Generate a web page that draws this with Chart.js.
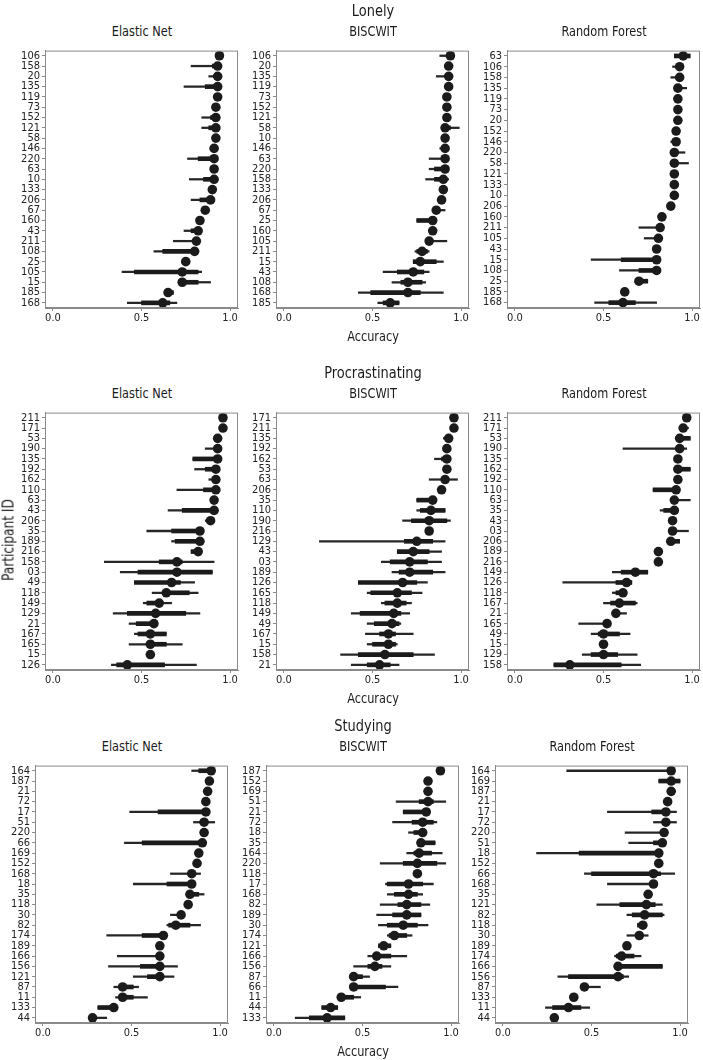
<!DOCTYPE html>
<html>
<head>
<meta charset="utf-8">
<script src="https://cdn.jsdelivr.net/npm/chart.js@4.4.0/dist/chart.umd.min.js"></script>
<style>
  body { margin: 0; background: #fff; width: 703px; height: 1060px; position: relative; overflow: hidden;
         font-family: "Liberation Sans Narrow", "Arial Narrow", "DejaVu Sans Condensed", sans-serif; color: #1a1a1a; }
  .t { position: absolute; white-space: nowrap; transform: translate(-50%, -50%) scaleX(0.9); line-height: 1; }
  canvas { position: absolute; }
</style>
</head>
<body>
<script>
// ---- data: participant ids, point estimates, wide (thin) and narrow (thick) intervals ----
const xTicks = [0, 0.5, 1.0];
const rowTitles = ["Lonely", "Procrastinating", "Studying"];
const modelNames = ["Elastic Net", "BISCWIT", "Random Forest"];

// Lonely
const lonEnIds = ["106","158","20","135","119","73","152","121","58","146","220","63","10","133","206","67","160","43","211","108","25","105","15","185","168"];
const lonEnEst = [0.94,0.93,0.93,0.93,0.93,0.92,0.92,0.92,0.92,0.91,0.91,0.91,0.91,0.90,0.89,0.86,0.83,0.82,0.81,0.80,0.75,0.73,0.73,0.65,0.62];
const lonEnThin = [null,[0.78,0.94],[0.88,0.94],[0.74,0.93],null,null,[0.84,0.92],[0.84,0.92],null,null,[0.76,0.91],null,[0.77,0.91],null,[0.78,0.89],null,null,[0.74,0.82],[0.68,0.81],[0.57,0.80],null,[0.39,0.84],[0.73,0.89],[0.65,0.68],[0.42,0.70]];
const lonEnThick = [null,[0.90,0.94],null,[0.86,0.93],null,null,[0.89,0.92],[0.88,0.92],null,null,[0.82,0.91],null,[0.85,0.91],null,[0.83,0.89],null,null,[0.78,0.82],null,[0.62,0.80],null,[0.46,0.82],[0.73,0.82],[0.65,0.68],[0.50,0.66]];

const lonBwIds = ["106","20","135","119","73","152","121","58","10","146","63","220","158","133","206","67","25","160","105","211","15","43","108","168","185"];
const lonBwEst = [0.94,0.93,0.93,0.93,0.92,0.92,0.92,0.91,0.91,0.91,0.91,0.91,0.90,0.90,0.89,0.86,0.84,0.84,0.82,0.78,0.77,0.73,0.70,0.70,0.60];
const lonBwThin = [[0.88,0.94],null,[0.86,0.93],null,null,null,null,[0.91,0.99],null,[0.88,0.93],[0.82,0.91],[0.82,0.91],[0.80,0.93],null,null,[0.86,0.91],[0.75,0.84],null,[0.82,0.92],[0.74,0.82],[0.73,0.90],[0.56,0.82],[0.61,0.80],[0.42,0.90],[0.53,0.65]];
const lonBwThick = [null,null,null,null,null,null,null,[0.91,0.94],null,null,null,[0.85,0.91],[0.85,0.92],null,null,null,[0.75,0.84],null,null,[0.75,0.81],[0.73,0.86],[0.64,0.79],[0.66,0.78],[0.49,0.77],[0.56,0.65]];

const lonRfIds = ["63","106","158","135","119","73","20","152","146","220","58","121","133","10","206","160","211","105","43","15","108","25","185","168"];
const lonRfEst = [0.95,0.93,0.93,0.92,0.92,0.92,0.92,0.91,0.91,0.90,0.90,0.90,0.90,0.90,0.88,0.83,0.82,0.81,0.80,0.80,0.80,0.70,0.62,0.61];
const lonRfThin = [null,[0.89,0.93],[0.88,0.93],[0.92,0.97],null,null,null,null,[0.88,0.91],[0.90,0.96],[0.90,0.98],null,null,null,null,null,[0.70,0.82],[0.73,0.81],null,[0.43,0.80],[0.59,0.80],[0.69,0.75],null,[0.45,0.80]];
const lonRfThick = [[0.90,0.99],null,null,null,null,null,null,null,null,null,null,null,null,null,null,null,null,null,null,[0.60,0.80],[0.70,0.80],[0.69,0.75],null,[0.53,0.68]];

// Procrastinating
const proEnIds = ["211","171","53","190","135","192","162","110","63","43","206","35","189","216","158","03","49","118","149","129","21","167","165","15","126"];
const proEnEst = [0.96,0.96,0.93,0.93,0.93,0.92,0.92,0.92,0.91,0.91,0.89,0.83,0.83,0.82,0.70,0.70,0.67,0.64,0.60,0.58,0.57,0.55,0.55,0.55,0.42];
const proEnThin = [null,null,null,[0.86,0.93],[0.79,0.93],[0.80,0.92],[0.88,0.92],[0.70,0.92],null,[0.65,0.91],[0.86,0.89],[0.53,0.83],[0.67,0.83],[0.78,0.82],[0.29,0.91],[0.38,0.90],[0.46,0.80],[0.56,0.82],[0.51,0.67],[0.34,0.83],[0.43,0.57],[0.46,0.64],[0.43,0.73],null,[0.33,0.81]];
const proEnThick = [null,null,null,null,[0.79,0.93],[0.86,0.92],null,[0.85,0.92],null,[0.73,0.91],null,[0.67,0.83],[0.69,0.83],[0.78,0.82],[0.60,0.73],[0.48,0.90],[0.46,0.72],[0.62,0.77],[0.53,0.62],[0.42,0.75],[0.47,0.57],[0.48,0.64],[0.55,0.64],null,[0.36,0.63]];

const proBwIds = ["171","211","135","192","162","53","63","206","35","110","190","216","129","43","03","189","126","165","118","149","49","167","15","158","21"];
const proBwEst = [0.96,0.96,0.93,0.92,0.92,0.92,0.91,0.89,0.84,0.83,0.82,0.82,0.75,0.73,0.71,0.71,0.67,0.64,0.64,0.62,0.61,0.59,0.59,0.57,0.54];
const proBwThin = [null,null,[0.90,0.95],null,[0.85,0.93],[0.90,0.92],[0.82,0.98],null,[0.75,0.84],[0.75,0.91],[0.67,0.94],null,[0.20,0.91],[0.64,0.89],[0.55,0.89],[0.61,0.91],[0.42,0.81],[0.47,0.78],[0.55,0.72],[0.38,0.71],[0.47,0.66],[0.46,0.73],[0.47,0.64],[0.32,0.85],[0.38,0.65]];
const proBwThick = [null,null,null,null,[0.89,0.93],null,null,null,[0.75,0.84],[0.77,0.91],[0.72,0.92],null,[0.68,0.84],[0.64,0.82],[0.60,0.81],[0.65,0.84],[0.42,0.75],[0.49,0.72],[0.57,0.69],[0.43,0.66],[0.51,0.65],[0.54,0.63],[0.50,0.63],[0.42,0.73],[0.47,0.60]];

const proRfIds = ["211","171","53","190","135","162","192","110","63","35","43","03","206","189","216","149","126","118","167","21","165","49","15","129","158"];
const proRfEst = [0.97,0.95,0.93,0.93,0.92,0.92,0.92,0.91,0.90,0.90,0.89,0.89,0.88,0.81,0.81,0.68,0.63,0.61,0.59,0.57,0.52,0.50,0.50,0.50,0.31];
const proRfThin = [null,[0.95,0.98],[0.93,0.99],[0.61,0.97],null,[0.92,0.99],null,[0.78,0.91],[0.90,0.99],[0.82,0.90],null,[0.89,0.98],[0.88,0.93],null,null,[0.55,0.75],[0.27,0.66],[0.55,0.61],[0.50,0.69],[0.57,0.63],[0.36,0.52],[0.43,0.65],null,[0.38,0.69],[0.22,0.71]];
const proRfThick = [null,null,[0.93,0.99],null,null,[0.92,0.99],null,[0.78,0.91],null,[0.84,0.90],null,null,[0.88,0.93],null,null,[0.60,0.75],[0.57,0.66],[0.57,0.61],[0.54,0.68],null,null,[0.47,0.59],null,[0.43,0.58],[0.22,0.60]];

// Studying
const stuEnIds = ["164","187","21","72","17","51","220","66","169","152","168","18","35","118","30","82","174","189","166","156","121","87","11","133","44"];
const stuEnEst = [0.95,0.94,0.93,0.92,0.92,0.91,0.91,0.90,0.88,0.87,0.84,0.84,0.83,0.82,0.78,0.75,0.68,0.66,0.66,0.66,0.66,0.45,0.45,0.40,0.28];
const stuEnThin = [[0.84,0.95],null,null,null,[0.49,0.92],[0.85,0.97],null,[0.46,0.90],null,null,[0.72,0.89],[0.51,0.84],[0.83,0.91],null,[0.72,0.78],[0.70,0.89],[0.36,0.68],null,[0.42,0.66],[0.37,0.76],[0.51,0.74],[0.40,0.54],[0.41,0.59],[0.31,0.40],[0.28,0.36]];
const stuEnThick = [[0.88,0.95],null,null,null,[0.65,0.92],null,null,[0.56,0.90],null,null,null,[0.70,0.84],[0.83,0.88],null,null,[0.71,0.83],[0.56,0.68],null,null,[0.55,0.68],[0.59,0.68],[0.43,0.51],[0.43,0.51],[0.31,0.40],null];

const stuBwIds = ["187","152","169","51","21","72","18","35","164","220","118","17","168","82","189","30","174","121","166","156","87","66","11","44","133"];
const stuBwEst = [0.94,0.87,0.87,0.87,0.86,0.84,0.84,0.83,0.82,0.81,0.81,0.76,0.76,0.75,0.75,0.73,0.68,0.62,0.58,0.57,0.45,0.45,0.38,0.32,0.30];
const stuBwThin = [null,[0.85,0.89],[0.85,0.89],[0.69,0.97],[0.73,0.86],[0.67,0.92],[0.76,0.84],[0.83,0.91],[0.75,0.95],[0.60,0.97],null,[0.63,0.90],[0.64,0.84],[0.60,0.88],[0.58,0.83],[0.59,0.87],[0.64,0.78],[0.59,0.66],[0.53,0.75],[0.45,0.66],[0.45,0.54],[0.45,0.70],[0.38,0.49],[0.27,0.36],[0.12,0.40]];
const stuBwThick = [null,[0.85,0.89],[0.85,0.89],[0.82,0.90],[0.73,0.86],[0.78,0.90],[0.79,0.84],[0.83,0.91],[0.79,0.89],[0.73,0.92],null,[0.64,0.84],[0.68,0.81],[0.70,0.83],[0.67,0.83],[0.64,0.81],[0.65,0.75],[0.59,0.66],[0.57,0.66],[0.53,0.61],[0.45,0.50],[0.45,0.63],[0.38,0.45],[0.27,0.36],[0.20,0.40]];

const stuRfIds = ["164","169","187","21","17","72","220","51","18","152","66","168","35","121","82","118","30","189","174","166","156","87","133","11","44"];
const stuRfEst = [0.95,0.95,0.95,0.93,0.92,0.92,0.91,0.90,0.88,0.88,0.85,0.85,0.82,0.81,0.80,0.79,0.77,0.70,0.67,0.65,0.65,0.46,0.40,0.37,0.29];
const stuRfThin = [[0.36,0.95],[0.88,1.00],null,null,[0.59,0.98],[0.85,0.98],[0.69,0.91],[0.71,0.90],[0.19,0.88],null,[0.46,0.97],[0.59,0.85],null,[0.53,0.90],[0.70,0.91],[0.76,0.79],[0.70,0.82],[0.68,0.70],[0.63,0.78],[0.65,0.90],[0.31,0.71],[0.46,0.55],null,[0.24,0.49],null];
const stuRfThick = [null,[0.88,1.00],null,null,[0.84,0.92],null,null,[0.85,0.90],[0.43,0.88],null,[0.50,0.89],null,null,[0.66,0.86],[0.73,0.90],[0.76,0.79],null,[0.68,0.70],[0.64,0.74],[0.65,0.90],[0.37,0.68],null,null,[0.28,0.44],null];

// ---- layout ----
const FONT = '"Liberation Sans Narrow", "Arial Narrow", "DejaVu Sans Condensed", sans-serif';
Chart.defaults.font.family = FONT;
const INK = "#1b1b1b";
const FRAME = "#8a8a8a";
const Y_W = 40, X_H = 22, PAD = 6;
const PLOT_W = 193, PLOT_H = 260;
const rowTops = [48, 410, 763];
const colLefts = [[45, 276, 507], [45, 276, 507], [35, 266, 495]];

const panels = [
  [[lonEnIds, lonEnEst, lonEnThin, lonEnThick], [lonBwIds, lonBwEst, lonBwThin, lonBwThick], [lonRfIds, lonRfEst, lonRfThin, lonRfThick]],
  [[proEnIds, proEnEst, proEnThin, proEnThick], [proBwIds, proBwEst, proBwThin, proBwThick], [proRfIds, proRfEst, proRfThin, proRfThick]],
  [[stuEnIds, stuEnEst, stuEnThin, stuEnThick], [stuBwIds, stuBwEst, stuBwThin, stuBwThick], [stuRfIds, stuRfEst, stuRfThin, stuRfThick]]
];

function addText(txt, x, y, size, rotate) {
  const d = document.createElement("div");
  d.className = "t";
  d.textContent = txt;
  d.style.left = x + "px";
  d.style.top = y + "px";
  d.style.fontSize = size + "px";
  if (rotate) d.style.transform = "translate(-50%, -50%) rotate(-90deg) scaleX(0.9)";
  document.body.appendChild(d);
}

const frameBox = {
  id: "frameBox",
  afterDraw(chart) {
    const a = chart.chartArea;
    const ctx = chart.ctx;
    ctx.save();
    ctx.strokeStyle = FRAME;
    ctx.lineWidth = 1;
    ctx.strokeRect(a.left + 0.5, a.top + 0.5, a.right - a.left - 1, a.bottom - a.top - 1);
    ctx.restore();
  }
};

function makePanel(data, left, top) {
  const [ids, est, thin, thick] = data;
  const cv = document.createElement("canvas");
  const w = Y_W + PLOT_W + PAD, h = PAD + PLOT_H + X_H;
  cv.width = w; cv.height = h;
  cv.style.left = (left - Y_W) + "px";
  cv.style.top = (top - PAD) + "px";
  document.body.appendChild(cv);

  new Chart(cv, {
    type: "bar",
    data: {
      labels: ids,
      datasets: [
        {
          type: "line", indexAxis: "y", data: est, showLine: false,
          pointRadius: 4.8, pointHoverRadius: 4.8, pointBackgroundColor: INK, pointBorderWidth: 0,
          order: 0, clip: false
        },
        { data: thick, backgroundColor: INK, barThickness: 4, grouped: false, order: 1, clip: false },
        { data: thin, backgroundColor: "#262626", barThickness: 1.6, grouped: false, order: 2, clip: false }
      ]
    },
    options: {
      indexAxis: "y",
      responsive: false,
      animation: false,
      layout: { padding: { top: PAD, right: PAD, left: 0, bottom: 0 } },
      plugins: { legend: { display: false }, tooltip: { enabled: false } },
      scales: {
        x: {
          type: "linear", min: -0.045, max: 1.045,
          afterBuildTicks: s => { s.ticks = xTicks.map(v => ({ value: v })); },
          afterFit: s => { s.height = X_H; },
          ticks: { callback: v => Number(v).toFixed(1), font: { size: 11 }, color: "#222", padding: 1, maxRotation: 0, autoSkip: false },
          grid: { drawOnChartArea: false, tickLength: 3, color: FRAME },
          border: { color: FRAME }
        },
        y: {
          type: "category",
          afterFit: s => { s.width = Y_W; },
          ticks: { font: { size: 11 }, color: "#222", padding: 2, autoSkip: false },
          grid: { offset: false, drawOnChartArea: false, tickLength: 3, color: FRAME },
          border: { color: FRAME }
        }
      }
    },
    plugins: [frameBox]
  });
}

rowTops.forEach((top, r) => {
  const lefts = colLefts[r];
  panels[r].forEach((p, c) => {
    makePanel(p, lefts[c], top);
    addText(modelNames[c], lefts[c] + PLOT_W / 2, top - 17, 14);
  });
  const mid = lefts[1] + PLOT_W / 2;
  addText(rowTitles[r], mid, top - 37, 16);
  addText("Accuracy", mid, top + PLOT_H + 28, 14);
});
addText("Participant ID", 9, rowTops[1] + PLOT_H / 2, 15, true);
</script>
</body>
</html>
